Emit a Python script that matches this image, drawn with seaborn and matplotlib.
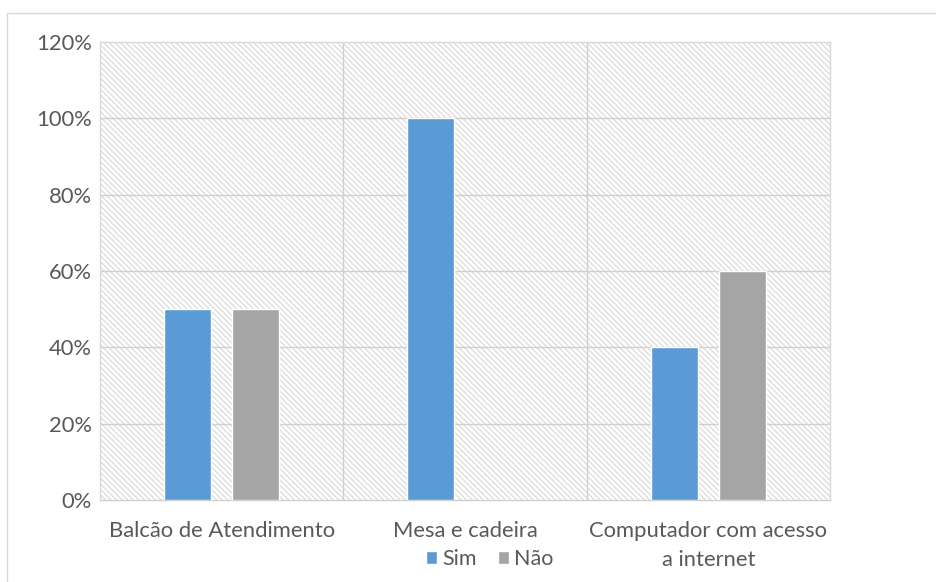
import matplotlib
matplotlib.use("Agg")
import matplotlib.pyplot as plt
import seaborn as sns
import pandas as pd
from matplotlib.patches import Rectangle
from matplotlib.ticker import FuncFormatter

categories = ["Balcão de Atendimento", "Mesa e cadeira", "Computador com acesso\na internet"]
series = ["Sim", "Não"]
sim_values = [50, 100, 40]
nao_values = [50, 0, 60]
y_ticks = [0, 20, 40, 60, 80, 100, 120]
colors = {"Sim": "#5B9BD5", "Não": "#A5A5A5"}

df = pd.DataFrame({
    "Categoria": categories * 2,
    "Série": ["Sim"] * 3 + ["Não"] * 3,
    "Valor": sim_values + nao_values,
})

sns.set_style("white")
plt.rcParams["font.family"] = ["Lato", "DejaVu Sans"]
plt.rcParams["hatch.linewidth"] = 1.0

fig = plt.figure(figsize=(9.37, 5.82), dpi=100)
ax = fig.add_axes([100/937, 1 - 500/582, 730/937, 458/582])

# hatched background
bg = Rectangle((0, 0), 1, 1, transform=ax.transAxes, facecolor="white",
               edgecolor="#dedede", hatch="\\\\\\\\\\\\", lw=0, zorder=0)
ax.add_patch(bg)

sns.barplot(data=df, x="Categoria", y="Valor", hue="Série", order=categories,
            hue_order=series, palette=colors, width=0.56, gap=0.31,
            saturation=1, ax=ax, zorder=3, legend=True)

ax.set_ylim(0, 120)
ax.set_xlim(-0.5, 2.5)
ax.set_yticks(y_ticks)
ax.yaxis.set_major_formatter(FuncFormatter(lambda v, p: f"{int(v)}%"))
ax.set_xlabel("")
ax.set_ylabel("")

for y in y_ticks[1:-1]:
    ax.axhline(y, color="#d0d0d0", lw=1, zorder=1)
for x in [0.5, 1.5]:
    ax.axvline(x, color="#d0d0d0", lw=1, zorder=1)

for s in ax.spines.values():
    s.set_color("#d9d9d9")
    s.set_linewidth(1)
ax.spines["bottom"].set_color("#d0d0d0")

ax.tick_params(axis="both", length=0, labelsize=15.8, colors="#595959")
ax.tick_params(axis="x", pad=15)
ax.tick_params(axis="y", pad=6)
for lbl in ax.get_xticklabels():
    lbl.set_linespacing(1.6)

leg = ax.legend(loc="upper center", bbox_to_anchor=(390/730, -0.065), ncol=2,
                frameon=False, fontsize=15.5, handlelength=0.5, handleheight=0.5,
                handletextpad=0.25, columnspacing=1.0, labelcolor="#595959")

# outer chart border (left and top visible)
fig.patches.append(Rectangle((7/937, -0.1), 2, 1 - 13/582 + 0.1, transform=fig.transFigure,
                             fill=False, edgecolor="#d9d9d9", lw=1, zorder=0))

fig.savefig("out.png", dpi=100)
